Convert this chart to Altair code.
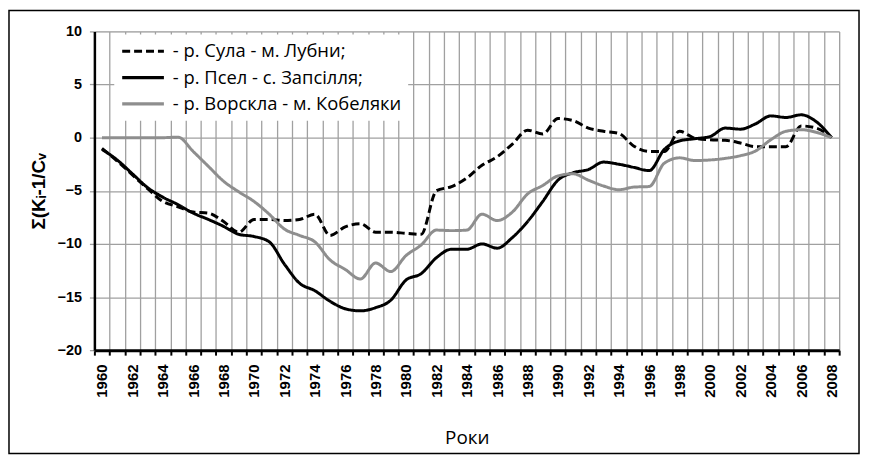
import altair as alt
import pandas as pd

years = list(range(1960, 2009))
series_names = ["- р. Сула - м. Лубни;", "- р. Псел - с. Запсілля;", "- р. Ворскла - м. Кобеляки"]

sula = [-1.0, -2.2, -3.5, -4.8, -6.0, -6.5, -7.0, -7.1, -7.9, -8.9,
        -7.7, -7.7, -7.8, -7.7, -7.2, -9.2, -8.4, -8.1, -8.9, -8.9,
        -9.0, -9.1, -5.0, -4.6, -3.8, -2.6, -1.8, -0.6, 0.7, 0.35,
        1.8, 1.6, 0.9, 0.6, 0.4, -0.8, -1.3, -1.3, 0.6, -0.05,
        -0.2, -0.25, -0.5, -0.85, -0.85, -0.85, 1.1, 0.9, 0.0]
psel = [-1.1, -2.1, -3.4, -4.7, -5.6, -6.3, -7.1, -7.7, -8.35, -9.1,
        -9.3, -9.8, -11.9, -13.7, -14.4, -15.4, -16.1, -16.3, -16.0, -15.3,
        -13.4, -12.8, -11.3, -10.5, -10.5, -10.0, -10.4, -9.4, -7.9, -6.0,
        -4.0, -3.3, -3.0, -2.3, -2.5, -2.8, -3.1, -1.1, -0.3, -0.1,
        0.1, 0.9, 0.8, 1.3, 2.05, 1.9, 2.15, 1.5, 0.0]
vorskla = [0.0, 0.0, 0.0, 0.0, 0.0, 0.05, -1.3, -2.7, -4.1, -5.1,
           -6.0, -7.2, -8.6, -9.2, -9.8, -11.5, -12.4, -13.3, -11.8, -12.6,
           -11.1, -10.1, -8.7, -8.75, -8.7, -7.2, -7.8, -7.0, -5.3, -4.5,
           -3.6, -3.4, -4.0, -4.55, -4.9, -4.65, -4.6, -2.4, -1.9, -2.15,
           -2.1, -1.95, -1.7, -1.25, -0.2, 0.6, 0.75, 0.5, 0.0]

y_ticks = [-20, -15, -10, -5, 0, 5, 10]

rows = []
for name, vals in zip(series_names, [sula, psel, vorskla]):
    for yr, v in zip(years, vals):
        rows.append({"year": yr, "value": v, "series": name})
df = pd.DataFrame(rows)

boundaries = [yr - 0.5 for yr in years] + [years[-1] + 0.5]
x_values = boundaries + years[::2]

half_test = "datum.value % 1 != 0"

legend = alt.Legend(
    title=None, orient="none", legendX=20, legendY=3,
    fillColor="white", padding=6,
    labelFont="Open Sans", labelFontSize=18.5, labelColor="black", labelLimit=400,
    symbolType="stroke", symbolSize=1764, symbolStrokeWidth=3.2, labelOffset=7,
    clipHeight=22, rowPadding=4.5,
)

lines = alt.Chart(df).mark_line(strokeWidth=3, interpolate="monotone").encode(
    x=alt.X("year:Q",
            scale=alt.Scale(domain=[1959.5, 2008.5], nice=False, zero=False),
            axis=alt.Axis(
                values=x_values, title="Роки",
                labelExpr="datum.value % 2 == 0 ? datum.value : ''",
                labelAngle=-90, labelOverlap=False, labelFlush=False, labelBound=False,
                labelFont="Liberation Sans", labelFontWeight="bold", labelFontSize=15,
                labelColor="black", labelPadding=9,
                gridOpacity={"condition": {"test": half_test, "value": 1}, "value": 0},
                tickOpacity={"condition": {"test": half_test, "value": 1}, "value": 0},
                gridColor="#a0a0a0", gridWidth=1.3,
                tickColor="black", tickSize=5, tickWidth=2,
                domainColor="black", domainWidth=3,
                titleFont="Open Sans", titleFontSize=19, titleFontWeight="normal",
                titleColor="black", titlePadding=32,
            )),
    y=alt.Y("value:Q",
            scale=alt.Scale(domain=[-20, 10], nice=False, zero=False),
            axis=alt.Axis(
                values=y_ticks, title="Σ(Kᵢ-1/Cᵥ",
                labelFont="Liberation Sans", labelFontWeight="bold", labelFontSize=14.5,
                labelColor="black", labelPadding=8,
                gridColor="#a0a0a0", gridWidth=1.3,
                tickColor="#a0a0a0", tickSize=5, tickWidth=1.3,
                domainColor="black", domainWidth=2.5,
                titleFont="Liberation Sans", titleFontSize=19, titleFontWeight="bold",
                titleColor="black", titlePadding=9,
            )),
    color=alt.Color("series:N",
                    scale=alt.Scale(domain=series_names, range=["#000000", "#000000", "#8e8e8e"]),
                    legend=legend),
    strokeDash=alt.StrokeDash("series:N",
                              scale=alt.Scale(domain=series_names, range=[[8, 4], [1, 0], [1, 0]]),
                              legend=legend),
)

frame = alt.Chart(pd.DataFrame({"a": [0]})).mark_rect(
    fillOpacity=0, stroke="black", strokeWidth=1.5
).encode(
    x=alt.value(-86), x2=alt.value(770), y=alt.value(-21), y2=alt.value(425)
)

chart = alt.layer(frame, lines).properties(
    width=750, height=321,
    autosize=alt.AutoSizeParams(type="none"),
    padding={"left": 87, "top": 22, "right": 22, "bottom": 105},
).configure_view(stroke=None).configure(background="white")

chart.save("out.html", embed_options={"renderer": "svg", "actions": False})
